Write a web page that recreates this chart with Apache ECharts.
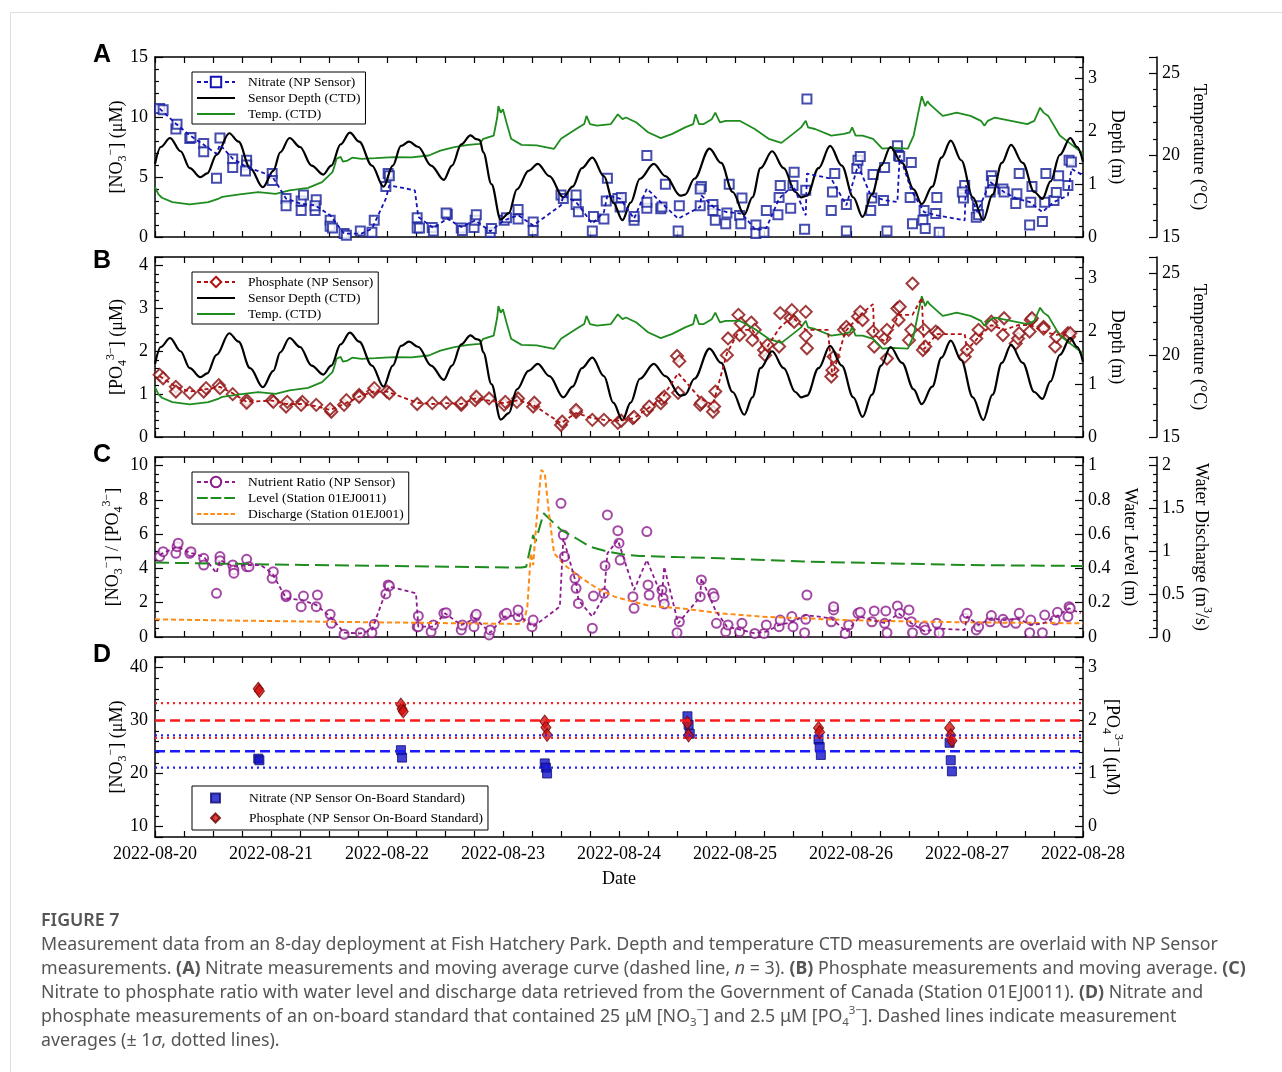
<!DOCTYPE html>
<html>
<head>
<meta charset="utf-8">
<script src="https://cdn.jsdelivr.net/npm/echarts@6.0.0/dist/echarts.min.js"></script>
<style>
  html, body { margin: 0; padding: 0; background: #fff; }
  #chart { width: 1282px; height: 1072px; }
</style>
</head>
<body>
<div id="chart"></div>
<script>
// x values are days since 2022-08-20 00:00
var dayLabels = ['2022-08-20', '2022-08-21', '2022-08-22', '2022-08-23', '2022-08-24',
                 '2022-08-25', '2022-08-26', '2022-08-27', '2022-08-28'];

// CTD sensor depth (m)
var sensorDepth = [[0,1.38],[0.05,1.70],[0.13,1.87],[0.22,1.62],[0.30,1.30],[0.39,1.13],[0.45,1.20],[0.53,1.55],[0.64,1.96],[0.72,1.80],[0.82,1.30],[0.93,0.94],[1.02,1.25],[1.08,1.60],[1.16,1.87],[1.25,1.70],[1.35,1.35],[1.45,1.18],[1.52,1.35],[1.60,1.75],[1.68,1.97],[1.76,1.80],[1.87,1.35],[1.97,0.95],[2.05,1.35],[2.12,1.72],[2.19,1.80],[2.27,1.70],[2.38,1.35],[2.49,1.08],[2.56,1.35],[2.64,1.75],[2.72,1.92],[2.77,1.85],[2.80,1.83],[2.83,1.60],[2.90,1.00],[2.98,0.33],[3.05,0.45],[3.12,0.90],[3.22,1.25],[3.30,1.38],[3.40,1.15],[3.52,0.75],[3.60,0.95],[3.68,1.30],[3.77,1.50],[3.87,1.15],[3.95,0.65],[4.03,0.32],[4.10,0.65],[4.18,1.10],[4.30,1.38],[4.40,1.15],[4.53,0.78],[4.57,0.80],[4.65,1.10],[4.78,1.67],[4.88,1.40],[4.98,0.85],[5.08,0.42],[5.15,0.75],[5.22,1.30],[5.32,1.62],[5.42,1.30],[5.52,0.85],[5.57,0.75],[5.62,0.78],[5.72,1.30],[5.82,1.72],[5.92,1.35],[6.02,0.75],[6.10,0.38],[6.18,0.80],[6.26,1.35],[6.34,1.70],[6.44,1.40],[6.54,0.90],[6.61,0.62],[6.70,0.95],[6.78,1.50],[6.86,1.82],[6.95,1.45],[7.05,0.75],[7.14,0.32],[7.22,0.80],[7.30,1.40],[7.38,1.74],[7.48,1.40],[7.58,0.85],[7.65,0.72],[7.72,1.05],[7.80,1.55],[7.89,1.87],[7.95,1.70],[8.00,1.42]];

// CTD temperature (°C)
var ctdTemp = [[0,18.05],[0.03,17.6],[0.06,17.4],[0.15,17.13],[0.30,16.99],[0.46,17.13],[0.55,17.35],[0.58,17.45],[0.73,17.6],[0.89,17.74],[1.04,17.64],[1.16,17.85],[1.32,18.0],[1.44,18.35],[1.53,18.96],[1.55,19.4],[1.565,19.78],[1.60,19.9],[1.62,19.6],[1.66,19.67],[1.70,19.85],[1.78,19.78],[1.90,19.82],[2.06,19.88],[2.21,19.86],[2.36,19.98],[2.46,20.28],[2.58,20.49],[2.70,20.63],[2.80,20.69],[2.83,21.0],[2.92,21.2],[2.95,22.3],[2.96,23.0],[2.98,22.6],[3.00,22.8],[3.03,22.0],[3.07,21.0],[3.16,20.63],[3.29,20.6],[3.44,20.39],[3.50,21.0],[3.63,21.6],[3.70,21.9],[3.72,22.4],[3.75,21.9],[3.81,21.8],[3.93,21.9],[3.99,22.5],[4.03,22.2],[4.06,22.3],[4.15,22.0],[4.20,21.7],[4.25,21.4],[4.36,21.04],[4.46,21.3],[4.57,21.7],[4.64,21.9],[4.66,22.5],[4.69,21.9],[4.73,21.9],[4.80,22.2],[4.83,22.6],[4.87,22.0],[4.92,22.1],[5.04,22.1],[5.17,21.6],[5.29,21.0],[5.40,20.75],[5.50,21.3],[5.57,21.7],[5.61,22.1],[5.63,21.7],[5.69,21.6],[5.83,21.2],[5.94,21.3],[5.99,21.4],[6.01,21.7],[6.04,21.2],[6.10,21.2],[6.19,21.0],[6.27,20.4],[6.36,20.45],[6.49,20.4],[6.54,21.2],[6.58,22.6],[6.61,23.6],[6.64,23.0],[6.66,23.3],[6.68,23.1],[6.79,22.4],[6.85,22.5],[6.91,22.6],[7.03,22.4],[7.12,22.1],[7.15,21.8],[7.18,22.1],[7.24,22.3],[7.38,22.1],[7.52,21.9],[7.58,22.1],[7.63,22.9],[7.66,22.6],[7.70,22.4],[7.80,21.2],[7.91,20.6],[8.0,20.1]];

// (A) nitrate, NP sensor (µM) and its moving average (n = 3)
var nitrate = [[0.04,10.7],[0.07,10.6],[0.18,9.0],[0.19,9.4],[0.30,8.2],[0.31,8.3],[0.42,7.8],[0.42,7.1],[0.53,4.9],[0.56,8.25],[0.67,6.5],[0.67,5.8],[0.79,6.4],[0.79,6.0],[0.78,5.5],[1.01,5.3],[1.01,4.7],[1.13,3.2],[1.13,2.6],[1.26,3.0],[1.28,3.5],[1.26,2.2],[1.39,3.1],[1.38,2.2],[1.38,2.6],[1.51,1.4],[1.51,0.9],[1.53,0.75],[1.63,0.3],[1.65,0.15],[1.77,0.5],[1.87,0.4],[1.89,1.4],[1.99,4.2],[2.01,5.3],[2.02,5.1],[2.26,1.6],[2.26,0.75],[2.28,0.75],[2.39,0.8],[2.40,0.5],[2.52,1.9],[2.51,2.0],[2.64,0.75],[2.65,0.55],[2.75,0.8],[2.76,1.4],[2.77,1.85],[2.89,0.4],[2.90,0.7],[3.01,1.4],[3.03,1.6],[3.13,1.5],[3.13,2.3],[3.26,1.25],[3.26,0.55],[3.50,3.5],[3.52,3.2],[3.63,3.5],[3.63,2.7],[3.65,2.1],[3.77,0.5],[3.78,1.7],[3.87,1.5],[3.89,3.0],[3.90,4.9],[3.99,3.2],[4.01,2.5],[4.02,3.3],[4.13,1.4],[4.13,1.7],[4.24,2.4],[4.24,6.8],[4.24,2.9],[4.36,2.35],[4.37,2.5],[4.40,4.4],[4.51,0.5],[4.52,2.6],[4.70,2.6],[4.71,4.2],[4.70,4.0],[4.81,2.7],[4.81,2.2],[4.83,1.4],[4.92,1.1],[4.93,2.0],[4.95,4.4],[5.04,1.8],[5.05,1.1],[5.06,3.25],[5.18,1.0],[5.18,0.3],[5.25,0.4],[5.27,2.2],[5.37,1.85],[5.38,3.3],[5.39,4.3],[5.48,2.4],[5.50,4.3],[5.51,5.4],[5.61,3.9],[5.60,0.65],[5.62,11.5],[5.83,2.2],[5.84,3.75],[5.86,5.3],[5.96,2.7],[5.96,0.5],[6.05,5.7],[6.06,6.4],[6.08,6.7],[6.17,2.2],[6.18,3.25],[6.19,5.2],[6.28,3.05],[6.29,5.8],[6.31,0.5],[6.40,7.6],[6.41,6.8],[6.42,6.7],[6.52,6.2],[6.51,3.3],[6.53,1.1],[6.63,2.2],[6.62,1.4],[6.64,0.7],[6.74,3.3],[6.73,1.95],[6.76,0.4],[6.98,4.3],[6.97,3.25],[6.96,3.75],[7.08,1.65],[7.09,2.6],[7.10,1.85],[7.20,3.75],[7.21,5.1],[7.22,4.7],[7.31,4.0],[7.32,3.75],[7.42,2.8],[7.43,3.6],[7.45,5.3],[7.54,1.0],[7.55,2.9],[7.56,4.2],[7.65,1.3],[7.67,2.9],[7.68,5.3],[7.75,3.05],[7.77,3.7],[7.79,5.1],[7.87,4.3],[7.88,6.4],[7.90,6.25]];
var nitrateAvg = [[0.04,10.7],[0.18,9.44],[0.30,8.47],[0.42,7.69],[0.53,6.94],[0.56,7.69],[0.67,6.53],[0.79,5.83],[1.01,5.08],[1.13,3.19],[1.26,2.78],[1.38,2.64],[1.51,1.81],[1.63,0.28],[1.78,0.28],[1.87,0.69],[1.99,3.19],[2.02,4.31],[2.24,3.89],[2.27,1.67],[2.40,0.75],[2.52,1.53],[2.64,0.83],[2.76,1.39],[2.89,0.47],[3.01,1.39],[3.13,1.81],[3.26,0.97],[3.50,2.64],[3.52,3.47],[3.63,2.92],[3.77,1.11],[3.87,2.08],[3.90,3.47],[4.01,3.19],[4.13,1.53],[4.24,4.03],[4.36,2.9],[4.51,1.53],[4.70,2.5],[4.71,3.47],[4.83,2.36],[4.93,2.08],[5.06,1.94],[5.18,0.56],[5.27,0.75],[5.38,3.19],[5.50,4.31],[5.61,1.81],[5.62,5.28],[5.83,4.86],[5.96,2.64],[6.06,5.97],[6.17,3.47],[6.29,3.06],[6.40,2.92],[6.42,6.81],[6.52,3.89],[6.63,2.08],[6.74,1.81],[6.98,1.39],[6.99,4.31],[7.09,2.08],[7.20,4.58],[7.32,3.75],[7.43,3.19],[7.54,2.92],[7.65,2.08],[7.75,2.92],[7.87,3.47],[7.90,5.69],[8.0,5.14]];

// (B) phosphate, NP sensor (µM) and its moving average
var phosphate = [[0.04,1.45],[0.07,1.37],[0.18,1.17],[0.18,1.06],[0.30,1.03],[0.42,1.06],[0.44,1.14],[0.55,1.21],[0.56,1.14],[0.67,1.0],[0.79,0.86],[0.79,0.80],[1.01,0.86],[1.02,0.82],[1.13,0.71],[1.14,0.82],[1.27,0.82],[1.26,0.75],[1.39,0.75],[1.52,0.59],[1.51,0.65],[1.63,0.75],[1.65,0.86],[1.76,0.98],[1.76,0.94],[1.88,1.06],[1.89,1.14],[2.00,1.06],[2.02,1.02],[2.26,0.77],[2.39,0.79],[2.51,0.80],[2.64,0.75],[2.64,0.79],[2.76,0.86],[2.77,0.94],[2.88,0.90],[3.01,0.75],[3.02,0.82],[3.13,0.90],[3.12,0.82],[3.26,0.71],[3.27,0.80],[3.50,0.28],[3.51,0.36],[3.63,0.58],[3.63,0.63],[3.77,0.40],[3.87,0.40],[3.99,0.33],[4.02,0.38],[4.12,0.44],[4.13,0.47],[4.24,0.63],[4.26,0.71],[4.36,0.79],[4.37,0.89],[4.39,0.94],[4.50,1.89],[4.52,1.77],[4.51,1.03],[4.70,0.75],[4.71,0.80],[4.81,0.59],[4.82,0.71],[4.83,1.06],[4.93,1.91],[4.94,2.30],[5.03,2.85],[5.04,2.38],[5.05,2.65],[5.14,2.67],[5.15,2.26],[5.17,2.50],[5.25,2.03],[5.26,1.91],[5.28,2.15],[5.38,2.11],[5.39,2.89],[5.48,2.77],[5.49,2.96],[5.51,2.69],[5.61,2.92],[5.61,2.36],[5.62,2.07],[5.83,1.41],[5.84,1.56],[5.85,1.87],[5.94,2.50],[5.96,2.57],[5.98,2.50],[6.06,2.81],[6.08,2.92],[6.10,2.73],[6.19,2.46],[6.20,2.11],[6.29,2.30],[6.31,2.50],[6.31,1.83],[6.40,3.0],[6.42,3.04],[6.41,2.73],[6.50,2.26],[6.53,3.58],[6.52,2.50],[6.63,2.50],[6.62,2.03],[6.64,2.11],[6.73,2.46],[6.75,2.42],[6.98,1.87],[7.00,2.03],[7.08,2.30],[7.10,2.50],[7.21,2.69],[7.21,2.61],[7.31,2.38],[7.32,2.77],[7.42,2.18],[7.44,2.30],[7.45,2.42],[7.54,2.46],[7.55,2.73],[7.56,2.77],[7.66,2.57],[7.66,2.53],[7.76,2.11],[7.77,2.34],[7.87,2.42],[7.88,2.34],[7.89,2.42]];
var phosphateAvg = [[0.04,1.42],[0.18,1.17],[0.30,1.06],[0.43,1.11],[0.56,1.17],[0.67,1.02],[0.79,0.82],[1.01,0.85],[1.13,0.77],[1.26,0.77],[1.39,0.72],[1.51,0.63],[1.63,0.77],[1.76,0.94],[1.88,1.06],[2.00,1.06],[2.26,0.80],[2.39,0.77],[2.51,0.79],[2.64,0.77],[2.76,0.90],[2.88,0.85],[3.01,0.79],[3.13,0.86],[3.26,0.75],[3.50,0.32],[3.63,0.56],[3.77,0.44],[3.87,0.40],[3.99,0.38],[4.13,0.44],[4.24,0.65],[4.36,0.86],[4.51,1.49],[4.70,0.90],[4.81,0.75],[4.93,1.95],[5.04,2.50],[5.15,2.50],[5.26,2.03],[5.38,2.53],[5.49,2.81],[5.61,2.50],[5.80,2.50],[5.84,1.41],[5.95,2.46],[6.08,2.85],[6.19,3.10],[6.20,2.38],[6.30,2.22],[6.41,2.85],[6.53,2.85],[6.61,3.25],[6.63,2.05],[6.74,2.40],[6.98,2.40],[7.00,2.03],[7.09,2.30],[7.21,2.61],[7.32,2.50],[7.44,2.61],[7.55,2.61],[7.66,2.46],[7.77,2.38],[7.88,2.46]];

// (C) nutrient ratio [NO3-]/[PO4 3-] and its moving average
var ratio = [[0.04,4.69],[0.07,4.98],[0.18,4.88],[0.19,5.27],[0.20,5.47],[0.30,4.88],[0.31,4.98],[0.42,4.59],[0.42,4.2],[0.53,2.55],[0.56,4.69],[0.56,4.45],[0.67,4.2],[0.68,3.91],[0.68,3.72],[0.79,4.1],[0.79,4.53],[0.81,4.1],[1.01,3.42],[1.02,3.81],[1.13,2.35],[1.13,2.45],[1.26,1.77],[1.28,2.39],[1.39,1.77],[1.40,2.45],[1.51,1.32],[1.52,0.8],[1.63,0.16],[1.77,0.25],[1.87,0.25],[1.89,0.74],[1.99,2.51],[2.01,3.04],[2.02,2.98],[2.26,0.6],[2.27,1.23],[2.27,0.6],[2.38,0.31],[2.40,0.7],[2.49,1.38],[2.51,1.42],[2.64,0.41],[2.65,0.7],[2.75,0.6],[2.76,1.19],[2.77,1.32],[2.88,0.12],[2.89,0.41],[3.01,1.28],[3.03,1.38],[3.13,1.19],[3.13,1.58],[3.25,0.6],[3.26,0.99],[3.50,7.8],[3.52,5.95],[3.53,4.69],[3.62,3.42],[3.63,2.84],[3.65,1.96],[3.77,0.51],[3.78,2.39],[3.87,2.55],[3.88,4.16],[3.90,7.12],[3.99,6.2],[4.00,5.47],[4.01,4.49],[4.12,2.35],[4.13,1.67],[4.24,6.15],[4.25,3.04],[4.26,2.45],[4.37,2.74],[4.38,2.26],[4.39,1.93],[4.50,0.25],[4.52,0.89],[4.70,2.35],[4.71,3.33],[4.81,2.55],[4.82,2.35],[4.84,0.8],[4.92,0.31],[4.94,0.7],[5.04,0.31],[5.06,0.8],[5.17,0.21],[5.25,0.21],[5.27,0.7],[5.38,0.6],[5.39,0.99],[5.49,1.19],[5.50,0.6],[5.61,1.03],[5.62,2.45],[5.60,0.25],[5.83,0.89],[5.85,1.58],[5.85,1.77],[5.95,0.21],[5.98,0.7],[6.06,1.38],[6.08,1.44],[6.18,0.89],[6.20,1.52],[6.29,0.8],[6.30,1.52],[6.31,0.25],[6.40,1.81],[6.42,1.38],[6.50,1.58],[6.52,0.89],[6.53,0.25],[6.63,0.6],[6.64,0.41],[6.74,0.8],[6.76,0.25],[6.98,1.09],[7.00,1.38],[7.08,0.41],[7.10,0.6],[7.20,0.89],[7.21,1.25],[7.31,1.03],[7.33,0.84],[7.42,0.8],[7.45,1.38],[7.54,0.25],[7.55,0.99],[7.65,0.25],[7.67,1.28],[7.76,0.99],[7.78,1.44],[7.87,1.19],[7.88,1.77],[7.89,1.67]];
var ratioAvg = [[0.04,4.79],[0.19,5.27],[0.30,4.92],[0.42,4.69],[0.53,3.72],[0.56,4.49],[0.68,4.1],[0.79,4.2],[0.91,4.2],[1.01,3.72],[1.13,2.26],[1.26,2.16],[1.39,1.87],[1.51,1.19],[1.63,0.25],[1.77,0.21],[1.87,0.41],[1.99,2.65],[2.02,2.94],[2.25,2.55],[2.27,0.6],[2.40,0.6],[2.50,1.38],[2.64,0.7],[2.76,1.09],[2.89,0.25],[3.01,1.19],[3.13,1.28],[3.26,0.6],[3.49,1.77],[3.52,5.76],[3.63,3.13],[3.65,2.16],[3.77,1.19],[3.87,2.35],[3.90,4.88],[3.99,5.66],[4.13,2.74],[4.24,4.49],[4.37,2.35],[4.39,4.1],[4.51,0.8],[4.70,2.35],[4.71,3.42],[4.83,1.58],[4.93,0.6],[5.06,0.41],[5.17,0.21],[5.27,0.31],[5.38,0.7],[5.50,0.89],[5.61,1.28],[5.83,1.09],[5.96,0.31],[6.08,1.19],[6.18,0.99],[6.30,0.8],[6.41,1.38],[6.52,0.8],[6.64,0.31],[6.74,0.5],[6.98,0.41],[7.00,1.19],[7.10,0.7],[7.21,1.09],[7.32,0.99],[7.44,1.09],[7.55,0.7],[7.66,0.8],[7.77,1.19],[7.88,1.67],[7.98,1.38]];

// (C) water level (m) and discharge (m3/s), station 01EJ0011
var waterLevel = [[0,0.434],[0.6,0.428],[1.29,0.42],[2.0,0.415],[2.52,0.41],[3.16,0.405],[3.20,0.41],[3.26,0.595],[3.28,0.556],[3.35,0.722],[3.44,0.663],[3.50,0.625],[3.63,0.576],[3.75,0.527],[3.90,0.498],[4.06,0.479],[4.18,0.473],[4.50,0.466],[4.88,0.459],[5.59,0.44],[6.29,0.43],[7.00,0.42],[8.0,0.414]];
var discharge = [[0,0.206],[0.77,0.19],[1.5,0.178],[2.20,0.167],[3.13,0.152],[3.18,0.179],[3.21,0.354],[3.24,0.977],[3.26,0.84],[3.29,1.37],[3.33,1.95],[3.36,1.91],[3.40,1.40],[3.44,0.977],[3.53,0.84],[3.66,0.704],[3.81,0.568],[3.96,0.471],[4.12,0.412],[4.27,0.362],[4.53,0.335],[4.88,0.276],[5.23,0.237],[5.59,0.218],[5.94,0.198],[6.29,0.187],[7.00,0.171],[8.0,0.16]];

// (D) on-board standard measurements and their average / ±1σ levels
var stdNitrate = [[0.89,22.8],[0.90,22.5],[2.12,24.4],[2.13,23.0],[3.36,21.9],[3.37,21.1],[3.38,20.0],[4.59,30.8],[4.60,29.2],[4.61,27.5],[5.72,26.4],[5.73,25.0],[5.74,23.5],[6.85,25.8],[6.86,22.5],[6.87,20.4]];
var stdPhosphate = [[0.89,2.60],[0.90,2.56],[2.12,2.30],[2.13,2.22],[2.14,2.17],[3.36,1.98],[3.37,1.87],[3.38,1.73],[4.59,1.96],[4.60,1.72],[5.72,1.86],[5.73,1.78],[6.85,1.86],[6.86,1.72],[6.87,1.62]];
var stdNitrateLevels = [21.1, 24.2, 27.2];    // -1σ, mean, +1σ
var stdPhosphateLevels = [1.67, 2.0, 2.33];

var serif = '"Liberation Serif", "Times New Roman", serif';
var tickLine = {color: '#000', width: 1.2};
var richName = {
  sub: {fontFamily: serif, fontSize: 12, lineHeight: 12, verticalAlign: 'bottom', color: '#000'},
  sup: {fontFamily: serif, fontSize: 12, lineHeight: 12, verticalAlign: 'top', color: '#000'}
};
var nameStyle = {fontFamily: serif, fontSize: 18, color: '#000', lineHeight: 24, rich: richName};

function xAx(grid, top, labels) {
  return {
    type: 'value', gridIndex: grid, position: top ? 'top' : 'bottom', min: 0, max: 8, interval: 1,
    axisLine: {onZero: false, lineStyle: {color: '#000', width: 1.5}},
    axisTick: {inside: true, length: 6, lineStyle: tickLine},
    minorTick: {show: true, splitNumber: 4, length: 6, lineStyle: tickLine},
    splitLine: {show: false},
    axisLabel: {show: labels, margin: 8, fontFamily: serif, fontSize: 18, color: '#000',
      formatter: function (v) { return dayLabels[Math.round(v)]; }},
    name: labels ? 'Date' : '', nameLocation: 'middle', nameGap: 33, nameMoveOverlap: false,
    nameTextStyle: {fontFamily: serif, fontSize: 18, color: '#000'}
  };
}

function yAx(o) {
  var ax = {
    type: 'value', gridIndex: o.grid, position: o.right ? 'right' : 'left', offset: o.offset || 0,
    min: o.min, max: o.max,
    axisLine: {show: true, onZero: false, lineStyle: {color: '#000', width: 1.5}},
    axisTick: {show: true, inside: true, length: 8, lineStyle: tickLine},
    minorTick: {show: true, splitNumber: o.minor, length: 4, lineStyle: tickLine},
    splitLine: {show: false},
    axisLabel: {margin: o.right ? 5 : 7, fontFamily: serif, fontSize: 18, color: '#000',
      showMaxLabel: o.hideMax ? false : null, showMinLabel: o.hideMin ? false : null},
    name: o.name, nameLocation: 'middle', nameGap: o.gap, nameRotate: o.right ? -90 : 90,
    nameMoveOverlap: false, nameTextStyle: nameStyle
  };
  if (o.interval) ax.interval = o.interval;
  else { ax.minInterval = o.step; ax.maxInterval = o.step; }
  return ax;
}

var NO3 = '[NO{sub|3}{sup|−}]';
var PO4 = '[PO{sub|4}{sup|3−}]';

var grids = [
  {left: 155, top: 57, width: 928, height: 180},
  {left: 155, top: 257, width: 928, height: 180},
  {left: 155, top: 457, width: 928, height: 180},
  {left: 155, top: 657, width: 928, height: 180}
];

var xAxes = [];
for (var g = 0; g < 4; g++) { xAxes.push(xAx(g, false, g === 3)); xAxes.push(xAx(g, true, false)); }

var yAxes = [
  yAx({grid: 0, min: 0, max: 15, interval: 5, minor: 5, name: NO3 + ' (μM)', gap: 26}),
  yAx({grid: 0, right: true, min: 0, max: 3.4, interval: 1, minor: 5, hideMax: true, name: 'Depth (m)', gap: 22}),
  yAx({grid: 0, right: true, offset: 74, min: 15, max: 26, interval: 5, minor: 5, hideMax: true, name: 'Temperature (°C)', gap: 30}),
  yAx({grid: 1, min: 0, max: 4.2, interval: 1, minor: 5, hideMax: true, name: PO4 + ' (μM)', gap: 26}),
  yAx({grid: 1, right: true, min: 0, max: 3.4, interval: 1, minor: 5, hideMax: true, name: 'Depth (m)', gap: 22}),
  yAx({grid: 1, right: true, offset: 74, min: 15, max: 26, interval: 5, minor: 5, hideMax: true, name: 'Temperature (°C)', gap: 30}),
  yAx({grid: 2, min: 0, max: 10.5, interval: 2, minor: 4, hideMax: true, name: NO3 + ' / ' + PO4, gap: 30}),
  yAx({grid: 2, right: true, min: 0, max: 1.05, interval: 0.2, minor: 4, hideMax: true, name: 'Water Level (m)', gap: 35}),
  yAx({grid: 2, right: true, offset: 74, min: 0, max: 2.1, interval: 0.5, minor: 5, hideMax: true, name: 'Water Discharge (m{sup|3}/s)', gap: 32}),
  yAx({grid: 3, min: 8, max: 42, step: 10, minor: 5, hideMax: true, hideMin: true, name: NO3 + ' (μM)', gap: 26}),
  yAx({grid: 3, right: true, min: -0.2, max: 3.2, step: 1, minor: 5, hideMax: true, hideMin: true, name: PO4 + ' (μM)', gap: 17})
];

var cGreen = '#1e8c1e', cNavy = '#16209a', cMaroon = '#8a0a0a', cPurple = '#8c1c8c', cOrange = '#ff8a14';

function line(name, data, grid, yi, color, width, type, extra) {
  var s = {type: 'line', name: name, data: data, xAxisIndex: grid * 2, yAxisIndex: yi,
    symbol: 'none', showSymbol: false, color: color, itemStyle: {color: color},
    lineStyle: {color: color, width: width, type: type}, silent: true};
  for (var k in extra) s[k] = extra[k];
  return s;
}
function levelLine(v) { return [[0, v], [8, v]]; }

var series = [
  // A
  line('Temp. (CTD)', ctdTemp, 0, 2, cGreen, 1.8, 'solid'),
  line('Sensor Depth (CTD)', sensorDepth, 0, 1, '#000', 2.2, 'solid', {smooth: 0.35, smoothMonotone: 'x'}),
  line('Nitrate (NP Sensor)', nitrateAvg, 0, 0, '#1414b4', 1.8, [4, 3], {symbol: 'emptyRect', symbolSize: 9}),
  {type: 'scatter', name: 'Nitrate (NP Sensor)', data: nitrate, xAxisIndex: 0, yAxisIndex: 0,
    symbol: 'emptyRect', symbolSize: 9, itemStyle: {color: cNavy, borderWidth: 2}, silent: true},
  // B
  line('Temp. (CTD)', ctdTemp, 1, 5, cGreen, 1.8, 'solid'),
  line('Sensor Depth (CTD)', sensorDepth, 1, 4, '#000', 2.2, 'solid', {smooth: 0.35, smoothMonotone: 'x'}),
  line('Phosphate (NP Sensor)', phosphateAvg, 1, 3, '#b01010', 1.8, [4, 3], {symbol: 'emptyDiamond', symbolSize: 11}),
  {type: 'scatter', name: 'Phosphate (NP Sensor)', data: phosphate, xAxisIndex: 2, yAxisIndex: 3,
    symbol: 'emptyDiamond', symbolSize: 12, itemStyle: {color: cMaroon, borderWidth: 2.4}, silent: true},
  // C
  line('Level (Station 01EJ0011)', waterLevel, 2, 7, cGreen, 2, [14, 6]),
  line('Discharge (Station 01EJ001)', discharge, 2, 8, cOrange, 2, [5, 3]),
  line('Nutrient Ratio (NP Sensor)', ratioAvg, 2, 6, cPurple, 1.8, [4, 3], {symbol: 'emptyCircle', symbolSize: 9}),
  {type: 'scatter', name: 'Nutrient Ratio (NP Sensor)', data: ratio, xAxisIndex: 4, yAxisIndex: 6,
    symbol: 'emptyCircle', symbolSize: 9, itemStyle: {color: cPurple, borderWidth: 2.2}, silent: true},
  // D
  line('nitrate -1σ', levelLine(stdNitrateLevels[0]), 3, 9, '#2020ff', 2.2, [2, 4]),
  line('nitrate mean', levelLine(stdNitrateLevels[1]), 3, 9, '#1a1aff', 2.4, [10, 5]),
  line('nitrate +1σ', levelLine(stdNitrateLevels[2]), 3, 9, '#2020ff', 2.2, [2, 4]),
  line('phosphate -1σ', levelLine(stdPhosphateLevels[0]), 3, 10, '#ff2020', 2.2, [2, 4]),
  line('phosphate mean', levelLine(stdPhosphateLevels[1]), 3, 10, '#ff1a1a', 2.4, [10, 5]),
  line('phosphate +1σ', levelLine(stdPhosphateLevels[2]), 3, 10, '#ff2020', 2.2, [2, 4]),
  {type: 'scatter', name: 'Nitrate (NP Sensor On-Board Standard)', data: stdNitrate, xAxisIndex: 6, yAxisIndex: 9,
    symbol: 'rect', symbolSize: 9, itemStyle: {color: '#1212c8', borderColor: '#0a0a70', borderWidth: 1}, silent: true},
  {type: 'scatter', name: 'Phosphate (NP Sensor On-Board Standard)', data: stdPhosphate, xAxisIndex: 6, yAxisIndex: 10,
    symbol: 'diamond', symbolSize: [10, 13], itemStyle: {color: '#d41010', borderColor: '#6a0000', borderWidth: 1}, silent: true}
];

var solidIcon = 'path://M0,0H30V1.7H0Z';
var longDashIcon = 'path://M0,0H8.5V1.7H0Z M10.75,0H19.25V1.7H10.75Z M21.5,0H30V1.7H21.5Z';
var shortDashIcon = 'path://M0,0H3.5V1.7H0Z M5.3,0H8.8V1.7H5.3Z M10.6,0H14.1V1.7H10.6Z M15.9,0H19.4V1.7H15.9Z M21.2,0H24.7V1.7H21.2Z M26.5,0H30V1.7H26.5Z';
var plainItem = {borderWidth: 0};

function legendBox(top, data, extra) {
  var l = {
    orient: 'vertical', left: 192, top: top, padding: [3, 5, 3, 4], itemGap: 2, itemWidth: 38, itemHeight: 13,
    backgroundColor: '#fff', borderColor: '#000', borderWidth: 1, selectedMode: false,
    textStyle: {fontFamily: serif, fontSize: 13.5, color: '#000', padding: [0, 0, 0, 8]},
    data: data
  };
  for (var k in extra) l[k] = extra[k];
  return l;
}

var legends = [
  legendBox(72, [{name: 'Nitrate (NP Sensor)'},
    {name: 'Sensor Depth (CTD)', icon: solidIcon, itemStyle: plainItem},
    {name: 'Temp. (CTD)', icon: solidIcon, itemStyle: plainItem}]),
  legendBox(272, [{name: 'Phosphate (NP Sensor)'},
    {name: 'Sensor Depth (CTD)', icon: solidIcon, itemStyle: plainItem},
    {name: 'Temp. (CTD)', icon: solidIcon, itemStyle: plainItem}]),
  legendBox(472, [{name: 'Nutrient Ratio (NP Sensor)'},
    {name: 'Level (Station 01EJ0011)', icon: longDashIcon, itemStyle: plainItem},
    {name: 'Discharge (Station 01EJ001)', icon: shortDashIcon, itemStyle: plainItem}]),
  legendBox(786, [{name: 'Nitrate (NP Sensor On-Board Standard)', icon: 'rect'},
    {name: 'Phosphate (NP Sensor On-Board Standard)', icon: 'diamond'}],
    {itemWidth: 9, itemHeight: 9, itemGap: 6, padding: [5, 5, 5, 18],
     textStyle: {fontFamily: serif, fontSize: 13.5, color: '#000', padding: [0, 0, 0, 24]}})
];

var capFont = '"Noto Sans", "Open Sans", sans-serif';
var capRich = {
  b: {fontFamily: capFont, fontSize: 17.8, fontWeight: 'bold', fill: '#555'},
  i: {fontFamily: capFont, fontSize: 17.8, fontStyle: 'italic', fill: '#555'},
  sb: {fontFamily: capFont, fontSize: 11.5, lineHeight: 12, verticalAlign: 'bottom', fill: '#555'},
  sp: {fontFamily: capFont, fontSize: 11.5, lineHeight: 12, verticalAlign: 'top', fill: '#555'}
};
var captionLines = [
  'Measurement data from an 8-day deployment at Fish Hatchery Park. Depth and temperature CTD measurements are overlaid with NP Sensor',
  'measurements. {b|(A)} Nitrate measurements and moving average curve (dashed line, {i|n} = 3). {b|(B)} Phosphate measurements and moving average. {b|(C)}',
  'Nitrate to phosphate ratio with water level and discharge data retrieved from the Government of Canada (Station 01EJ0011). {b|(D)} Nitrate and',
  'phosphate measurements of an on-board standard that contained 25 μM [NO{sb|3}{sp|−}] and 2.5 μM [PO{sb|4}{sp|3−}]. Dashed lines indicate measurement',
  'averages (± 1{i|σ}, dotted lines).'
];

var graphics = [
  {type: 'rect', silent: true, shape: {x: 10.5, y: 12.5, width: 1300, height: 1100},
    style: {fill: 'none', stroke: '#dedede', lineWidth: 1}},
  {type: 'text', silent: true, x: 41, y: 921, style: {text: 'FIGURE 7', font: '600 17.8px ' + capFont, fill: '#555', verticalAlign: 'middle'}}
];
['A', 'B', 'C', 'D'].forEach(function (t, i) {
  graphics.push({type: 'text', silent: true, x: 102, y: [55, 261, 455, 655][i],
    style: {text: t, font: 'bold 25px "Liberation Sans", Arial, sans-serif', fill: '#000', align: 'center', verticalAlign: 'middle'}});
});
captionLines.forEach(function (t, i) {
  graphics.push({type: 'text', silent: true, x: 41, y: 945 + i * 24,
    style: {text: t, font: '17.8px ' + capFont, fill: '#555', lineHeight: 24, verticalAlign: 'middle', rich: capRich}});
});

var chart = echarts.init(document.getElementById('chart'), null, {renderer: 'canvas'});
chart.setOption({
  animation: false,
  backgroundColor: '#fff',
  textStyle: {fontFamily: serif},
  grid: grids,
  xAxis: xAxes,
  yAxis: yAxes,
  legend: legends,
  series: series,
  graphic: graphics
});
</script>
</body>
</html>
